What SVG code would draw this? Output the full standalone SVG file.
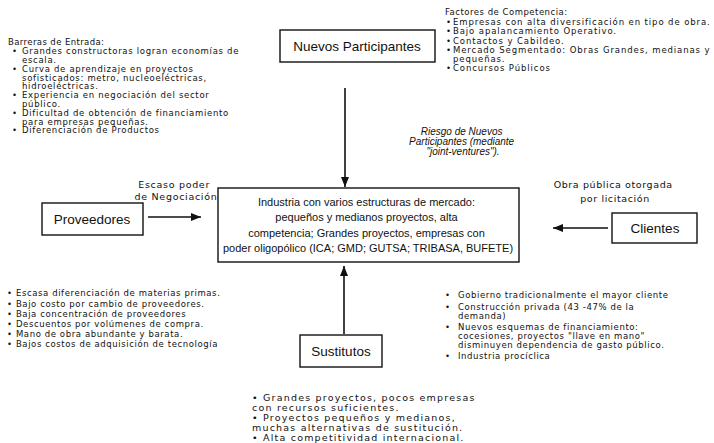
<svg xmlns="http://www.w3.org/2000/svg" width="714" height="443" viewBox="0 0 714 443">
<defs>
<marker id="ah" markerWidth="10" markerHeight="8" refX="10" refY="4" orient="auto" markerUnits="userSpaceOnUse">
<path d="M0,0 L10,4 L0,8 Z" fill="#111"/>
</marker>
<style>
text{font-family:"Liberation Sans",Arial,sans-serif;fill:#111}
.s{font-family:"DejaVu Sans",sans-serif;font-size:8.5px}
.c{font-size:11px}
.b{font-size:13.5px}
.i{font-style:italic}
.box{fill:#fff;stroke:#111;stroke-width:1.4}
.ln{stroke:#111;stroke-width:1.6;fill:none}
</style>
</defs>
<rect width="714" height="443" fill="#fff"/>

<g id="connectors">
<line class="ln" x1="345" y1="88" x2="345" y2="187" marker-end="url(#ah)"/>
<line class="ln" x1="148" y1="217" x2="201" y2="217" marker-end="url(#ah)"/>
<line class="ln" x1="608" y1="228" x2="553" y2="228" marker-end="url(#ah)"/>
<line class="ln" x1="344" y1="334" x2="344" y2="266" marker-end="url(#ah)"/>
</g>

<g id="nuevos">
<rect class="box" x="280" y="30" width="155" height="32"/>
<text class="b" x="357" y="51" text-anchor="middle">Nuevos Participantes</text>
</g>

<g id="industria">
<rect class="box" x="218" y="188" width="301" height="74"/>
<text class="c" text-anchor="middle">
<tspan x="368" y="206">Industria con varios estructuras de mercado:</tspan>
<tspan x="368" y="221">pequeños y medianos proyectos, alta</tspan>
<tspan x="368" y="237">competencia; Grandes proyectos, empresas con</tspan>
<tspan x="368" y="252">poder oligopólico (ICA; GMD; GUTSA; TRIBASA, BUFETE)</tspan>
</text>
</g>

<g id="proveedores">
<rect class="box" x="42" y="203" width="101" height="32"/>
<text class="b" x="92" y="224" text-anchor="middle">Proveedores</text>
</g>

<g id="clientes">
<rect class="box" x="612" y="213" width="85" height="30"/>
<text class="b" x="655" y="233" text-anchor="middle">Clientes</text>
</g>

<g id="sustitutos">
<rect class="box" x="300" y="335" width="82" height="32"/>
<text class="b" x="341" y="356" text-anchor="middle">Sustitutos</text>
</g>

<g id="barreras">
<text class="s" letter-spacing="0.7">
<tspan x="8" y="45" letter-spacing="0.4">Barreras de Entrada:</tspan>
<tspan x="12" y="54">•</tspan><tspan x="22" y="54">Grandes constructoras logran economías de</tspan>
<tspan x="22" y="63">escala.</tspan>
<tspan x="12" y="72">•</tspan><tspan x="22" y="72">Curva de aprendizaje en proyectos</tspan>
<tspan x="22" y="80.5">sofisticados: metro, nucleoeléctricas,</tspan>
<tspan x="22" y="89">hidroeléctricas.</tspan>
<tspan x="12" y="98">•</tspan><tspan x="22" y="98">Experiencia  en negociación del  sector</tspan>
<tspan x="22" y="107">público.</tspan>
<tspan x="12" y="116">•</tspan><tspan x="22" y="116">Dificultad de obtención de financiamiento</tspan>
<tspan x="22" y="124.5">para empresas pequeñas.</tspan>
<tspan x="12" y="133">•</tspan><tspan x="22" y="133">Diferenciación de Productos</tspan>
</text>
</g>

<g id="factores">
<text class="s" letter-spacing="0.9">
<tspan x="445" y="15" letter-spacing="0.5">Factores de Competencia:</tspan>
<tspan x="446" y="24.5">•</tspan><tspan x="453" y="24.5">Empresas con alta diversificación en tipo de obra.</tspan>
<tspan x="446" y="34">•</tspan><tspan x="453" y="34">Bajo apalancamiento Operativo.</tspan>
<tspan x="446" y="43.5">•</tspan><tspan x="453" y="43.5">Contactos y Cabildeo.</tspan>
<tspan x="446" y="53">•</tspan><tspan x="453" y="53">Mercado Segmentado: Obras Grandes, medianas y</tspan>
<tspan x="453" y="62">pequeñas.</tspan>
<tspan x="446" y="71">•</tspan><tspan x="453" y="71">Concursos Públicos</tspan>
</text>
</g>

<g id="riesgo">
<text class="i" font-size="10" text-anchor="middle">
<tspan x="463" y="135">Riesgo de Nuevos</tspan>
<tspan x="463" y="145">Participantes (mediante</tspan>
<tspan x="463" y="155">"joint-ventures").</tspan>
</text>
</g>

<g id="escaso">
<text class="s" style="font-size:9.5px" letter-spacing="0.7" text-anchor="middle">
<tspan x="176" y="188">Escaso poder</tspan>
<tspan x="176" y="200">de Negociación</tspan>
</text>
</g>

<g id="obra">
<text class="s" style="font-size:9.5px" letter-spacing="0.6" text-anchor="middle">
<tspan x="615" y="188">Obra pública otorgada</tspan>
<tspan x="615" y="202">por licitación</tspan>
</text>
</g>

<g id="prov-list">
<text class="s" letter-spacing="0.6">
<tspan x="7" y="296">• Escasa diferenciación de materias primas.</tspan>
<tspan x="7" y="306.5">• Bajo costo por cambio de proveedores.</tspan>
<tspan x="7" y="317">• Baja concentración de proveedores</tspan>
<tspan x="7" y="327">• Descuentos por volúmenes de compra.</tspan>
<tspan x="7" y="337">• Mano de obra abundante y barata.</tspan>
<tspan x="7" y="347">• Bajos costos de adquisición de tecnología</tspan>
</text>
</g>

<g id="cli-list">
<text class="s" letter-spacing="0.6">
<tspan x="445" y="298">•</tspan><tspan x="458" y="298">Gobierno tradicionalmente el mayor cliente</tspan>
<tspan x="445" y="309.5">•</tspan><tspan x="458" y="309.5">Construcción privada (43 -47% de la</tspan>
<tspan x="458" y="318.5">demanda)</tspan>
<tspan x="445" y="329.5">•</tspan><tspan x="458" y="329.5">Nuevos esquemas de financiamiento:</tspan>
<tspan x="458" y="338.5">cocesiones, proyectos "llave en mano"</tspan>
<tspan x="458" y="347.5">disminuyen dependencia de gasto público.</tspan>
<tspan x="445" y="359">•</tspan><tspan x="458" y="359">Industria procíclica</tspan>
</text>
</g>

<g id="sust-list">
<text class="s" style="font-size:9.5px" letter-spacing="1.2">
<tspan x="252" y="401">• Grandes proyectos, pocos empresas</tspan>
<tspan x="252" y="411">con recursos suficientes.</tspan>
<tspan x="252" y="421">• Proyectos pequeños y medianos,</tspan>
<tspan x="252" y="430.5">muchas alternativas de sustitución.</tspan>
<tspan x="252" y="440.5">• Alta competitividad internacional.</tspan>
</text>
</g>
</svg>
